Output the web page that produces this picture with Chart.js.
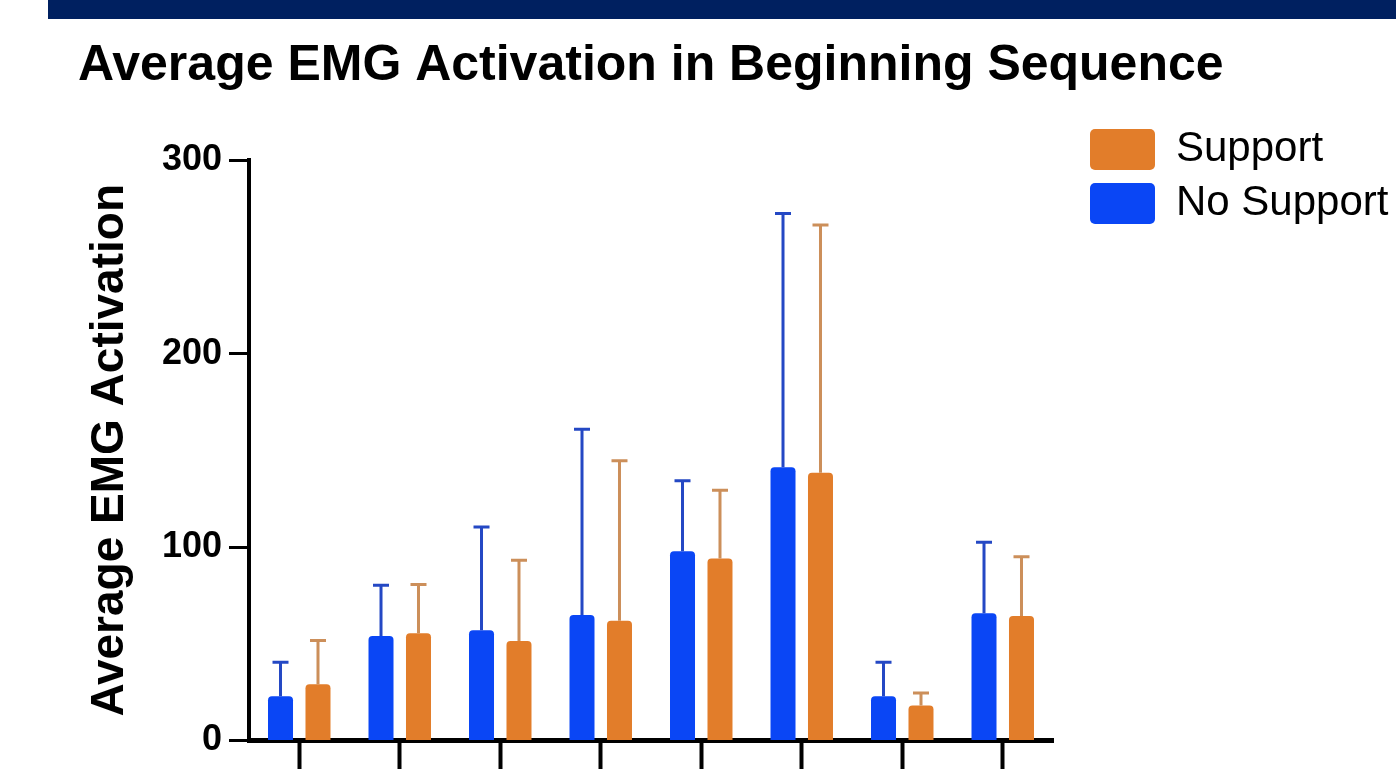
<!DOCTYPE html>
<html><head><meta charset="utf-8">
<script src="https://cdn.jsdelivr.net/npm/chart.js@4.4.1/dist/chart.umd.min.js"></script>
<style>
html,body{margin:0;padding:0;background:#fff;overflow:hidden;}
#wrap{position:relative;width:1396px;height:769px;}
#band{position:absolute;left:48px;top:0;width:1348px;height:19px;background:#002060;}
canvas{position:absolute;left:0;top:0;}
</style></head><body>
<div id="wrap"><canvas id="c" width="1396" height="769"></canvas><div id="band"></div></div>
<script>
const categories = ['1', '2', '3', '4', '5', '6', '7', '8'];
const seriesNames = ['No Support', 'Support'];
const noSupportMean = [22.8, 54.0, 57.0, 64.8, 97.8, 141.2, 22.8, 65.7];
const noSupportSD   = [17.6, 26.2, 53.3, 96.1, 36.4, 131.3, 17.6, 36.7];
const supportMean   = [29.0, 55.4, 51.4, 61.9, 94.0, 138.4, 18.0, 64.3];
const supportSD     = [22.6, 25.2, 41.7, 82.7, 35.4, 128.1, 6.5, 30.6];
const yTicks = [0, 100, 200, 300];
const chartTitle = 'Average EMG Activation in Beginning Sequence';
const yTitle = 'Average EMG Activation';

const FONT = "'Liberation Sans', Arial, Helvetica, sans-serif";

const errorBars = {
  id: 'errorBars',
  afterDatasetsDraw(chart) {
    const ctx = chart.ctx;
    const y = chart.scales.y;
    chart.data.datasets.forEach((ds, di) => {
      const meta = chart.getDatasetMeta(di);
      if (meta.hidden) return;
      meta.data.forEach((bar, i) => {
        const top = y.getPixelForValue(ds.data[i] + ds.errors[i]);
        ctx.save();
        ctx.strokeStyle = ds.errorColor;
        ctx.lineWidth = 3;
        ctx.beginPath();
        ctx.moveTo(bar.x, bar.y);
        ctx.lineTo(bar.x, top);
        ctx.moveTo(bar.x - 8, top);
        ctx.lineTo(bar.x + 8, top);
        ctx.stroke();
        ctx.restore();
      });
    });
  }
};

const legendShift = {
  id: 'legendShift',
  afterLayout(chart) {
    const l = chart.legend;
    if (l) { l.left += 25; l.right = chart.width; l.width = l.right - l.left; }
  }
};

new Chart(document.getElementById('c'), {
  type: 'bar',
  data: {
    labels: categories,
    datasets: [
      {
        label: seriesNames[0],
        data: noSupportMean,
        errors: noSupportSD,
        backgroundColor: '#0a46f5',
        errorColor: '#2448c4',
        borderWidth: 0,
        borderRadius: 4,
        categoryPercentage: 0.746,
        barPercentage: 0.667
      },
      {
        label: seriesNames[1],
        data: supportMean,
        errors: supportSD,
        backgroundColor: '#e27d2a',
        errorColor: '#cc8f5a',
        borderWidth: 0,
        borderRadius: 4,
        categoryPercentage: 0.746,
        barPercentage: 0.667
      }
    ]
  },
  options: {
    responsive: false,
    animation: false,
    devicePixelRatio: 1,
    layout: { padding: { left: 78, right: 43, top: 0, bottom: 0 } },
    plugins: {
      title: {
        display: true,
        text: chartTitle,
        align: 'start',
        color: '#000',
        font: { family: FONT, size: 50, weight: 'bold' },
        padding: { top: 36.5, bottom: 63.7 }
      },
      legend: {
        display: true,
        position: 'right',
        align: 'start',
        reverse: true,
        maxWidth: 300,
        title: { display: true, text: '', font: { size: 10 }, padding: { top: 104.5, bottom: 0 } },
        labels: {
          boxWidth: 65,
          boxHeight: 41,
          padding: 12,
          color: '#000',
          font: { family: FONT, size: 42 },
          useBorderRadius: true,
          borderRadius: 5
        }
      },
      tooltip: { enabled: false }
    },
    scales: {
      x: {
        grid: { display: true, drawOnChartArea: false, drawTicks: true, tickLength: 30, tickWidth: 4, tickColor: '#000', offset: false },
        border: { display: true, color: '#000', width: 5 },
        ticks: { display: false },
        afterFit(s) { s.height = 26.5; }
      },
      y: {
        min: 0,
        max: 300,
        afterBuildTicks(s) { s.ticks = yTicks.map(v => ({ value: v })); },
        grid: { display: true, drawOnChartArea: false, drawTicks: true, tickLength: 20, tickWidth: 3, tickColor: '#000' },
        border: { display: true, color: '#000', width: 4 },
        ticks: { color: '#000', font: { family: FONT, size: 36, weight: 'bold' }, padding: 7 },
        title: {
          display: true,
          text: yTitle,
          color: '#000',
          font: { family: FONT, size: 46, weight: 'bold' },
          padding: { top: 5, bottom: 0 }
        },
        afterFit(s) { s.width = 171; }
      }
    }
  },
  plugins: [errorBars, legendShift]
});
</script>
</body></html>
